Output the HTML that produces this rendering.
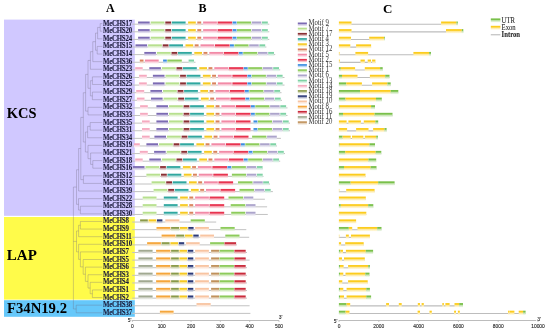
<!DOCTYPE html>
<html><head><meta charset="utf-8"><title>Figure</title>
<style>html,body{margin:0;padding:0;background:#fff;}body{width:550px;height:334px;overflow:hidden;font-family:"Liberation Serif",serif;}svg{display:block;will-change:transform;filter:blur(0.3px)}</style>
</head><body>
<svg width="550" height="334" viewBox="0 0 550 334">
<defs>
<linearGradient id="gm9" x1="0" y1="0" x2="0" y2="1"><stop offset="0" stop-color="#7c6bb3"/><stop offset="0.3" stop-color="#7c6bb3"/><stop offset="0.55" stop-color="#c4bcdd"/><stop offset="1" stop-color="#f5f3f9"/></linearGradient>
<linearGradient id="gm7" x1="0" y1="0" x2="0" y2="1"><stop offset="0" stop-color="#b7e08e"/><stop offset="0.3" stop-color="#b7e08e"/><stop offset="0.55" stop-color="#dff1cc"/><stop offset="1" stop-color="#f9fdf6"/></linearGradient>
<linearGradient id="gm17" x1="0" y1="0" x2="0" y2="1"><stop offset="0" stop-color="#8a2f33"/><stop offset="0.3" stop-color="#8a2f33"/><stop offset="0.55" stop-color="#caa1a3"/><stop offset="1" stop-color="#f6eeef"/></linearGradient>
<linearGradient id="gm4" x1="0" y1="0" x2="0" y2="1"><stop offset="0" stop-color="#2fa79f"/><stop offset="0.3" stop-color="#2fa79f"/><stop offset="0.55" stop-color="#a1d7d4"/><stop offset="1" stop-color="#eef8f7"/></linearGradient>
<linearGradient id="gm3" x1="0" y1="0" x2="0" y2="1"><stop offset="0" stop-color="#f6c921"/><stop offset="0.3" stop-color="#f6c921"/><stop offset="0.55" stop-color="#fbe79b"/><stop offset="1" stop-color="#fefbed"/></linearGradient>
<linearGradient id="gm12" x1="0" y1="0" x2="0" y2="1"><stop offset="0" stop-color="#d9835c"/><stop offset="0.3" stop-color="#d9835c"/><stop offset="0.55" stop-color="#eec7b6"/><stop offset="1" stop-color="#fcf5f2"/></linearGradient>
<linearGradient id="gm5" x1="0" y1="0" x2="0" y2="1"><stop offset="0" stop-color="#f28aa6"/><stop offset="0.3" stop-color="#f28aa6"/><stop offset="0.55" stop-color="#f9cad7"/><stop offset="1" stop-color="#fef6f8"/></linearGradient>
<linearGradient id="gm2" x1="0" y1="0" x2="0" y2="1"><stop offset="0" stop-color="#e8334f"/><stop offset="0.3" stop-color="#e8334f"/><stop offset="0.55" stop-color="#f5a3b0"/><stop offset="1" stop-color="#fdeff1"/></linearGradient>
<linearGradient id="gm15" x1="0" y1="0" x2="0" y2="1"><stop offset="0" stop-color="#3b8de0"/><stop offset="0.3" stop-color="#3b8de0"/><stop offset="0.55" stop-color="#a7ccf1"/><stop offset="1" stop-color="#eff6fd"/></linearGradient>
<linearGradient id="gm1" x1="0" y1="0" x2="0" y2="1"><stop offset="0" stop-color="#8dcb5b"/><stop offset="0.3" stop-color="#8dcb5b"/><stop offset="0.55" stop-color="#cce8b5"/><stop offset="1" stop-color="#f6fbf2"/></linearGradient>
<linearGradient id="gm6" x1="0" y1="0" x2="0" y2="1"><stop offset="0" stop-color="#aca4cb"/><stop offset="0.3" stop-color="#aca4cb"/><stop offset="0.55" stop-color="#dad6e8"/><stop offset="1" stop-color="#f8f8fb"/></linearGradient>
<linearGradient id="gm13" x1="0" y1="0" x2="0" y2="1"><stop offset="0" stop-color="#7fd2a5"/><stop offset="0.3" stop-color="#7fd2a5"/><stop offset="0.55" stop-color="#c5ebd6"/><stop offset="1" stop-color="#f5fbf8"/></linearGradient>
<linearGradient id="gm14" x1="0" y1="0" x2="0" y2="1"><stop offset="0" stop-color="#f5a9bf"/><stop offset="0.3" stop-color="#f5a9bf"/><stop offset="0.55" stop-color="#fad8e2"/><stop offset="1" stop-color="#fef8fa"/></linearGradient>
<linearGradient id="gm18" x1="0" y1="0" x2="0" y2="1"><stop offset="0" stop-color="#8a9a49"/><stop offset="0.3" stop-color="#8a9a49"/><stop offset="0.55" stop-color="#cad2ad"/><stop offset="1" stop-color="#f6f7f0"/></linearGradient>
<linearGradient id="gm19" x1="0" y1="0" x2="0" y2="1"><stop offset="0" stop-color="#2c3a78"/><stop offset="0.3" stop-color="#2c3a78"/><stop offset="0.55" stop-color="#a0a6c2"/><stop offset="1" stop-color="#eeeff4"/></linearGradient>
<linearGradient id="gm10" x1="0" y1="0" x2="0" y2="1"><stop offset="0" stop-color="#f8c4a1"/><stop offset="0.3" stop-color="#f8c4a1"/><stop offset="0.55" stop-color="#fce4d5"/><stop offset="1" stop-color="#fefaf7"/></linearGradient>
<linearGradient id="gm8" x1="0" y1="0" x2="0" y2="1"><stop offset="0" stop-color="#f5a63b"/><stop offset="0.3" stop-color="#f5a63b"/><stop offset="0.55" stop-color="#fad7a7"/><stop offset="1" stop-color="#fef8ef"/></linearGradient>
<linearGradient id="gm16" x1="0" y1="0" x2="0" y2="1"><stop offset="0" stop-color="#c92b3b"/><stop offset="0.3" stop-color="#c92b3b"/><stop offset="0.55" stop-color="#e7a0a7"/><stop offset="1" stop-color="#fbeeef"/></linearGradient>
<linearGradient id="gm11" x1="0" y1="0" x2="0" y2="1"><stop offset="0" stop-color="#a1a991"/><stop offset="0.3" stop-color="#a1a991"/><stop offset="0.55" stop-color="#d5d8ce"/><stop offset="1" stop-color="#f7f8f6"/></linearGradient>
<linearGradient id="gm20" x1="0" y1="0" x2="0" y2="1"><stop offset="0" stop-color="#c0915b"/><stop offset="0.3" stop-color="#c0915b"/><stop offset="0.55" stop-color="#e3ceb5"/><stop offset="1" stop-color="#faf6f2"/></linearGradient>
<linearGradient id="gexon" x1="0" y1="0" x2="0" y2="1"><stop offset="0" stop-color="#fccc1e"/><stop offset="0.3" stop-color="#fccc1e"/><stop offset="0.55" stop-color="#fee89a"/><stop offset="1" stop-color="#fffbed"/></linearGradient>
<linearGradient id="gutr" x1="0" y1="0" x2="0" y2="1"><stop offset="0" stop-color="#79c04a"/><stop offset="0.3" stop-color="#79c04a"/><stop offset="0.55" stop-color="#c3e3ae"/><stop offset="1" stop-color="#f4faf1"/></linearGradient>
</defs>
<rect x="4" y="19.6" width="130.8" height="196.2" fill="#d0c8ff"/>
<rect x="4" y="217" width="130.8" height="82.6" fill="#fffb4a"/>
<rect x="4" y="300.2" width="130.8" height="16.6" fill="#66c8fa"/>
<text x="110.4" y="12.4" font-family="Liberation Serif" font-weight="bold" font-size="12" text-anchor="middle">A</text>
<text x="202.4" y="12.4" font-family="Liberation Serif" font-weight="bold" font-size="12" text-anchor="middle">B</text>
<text x="387.8" y="13.3" font-family="Liberation Serif" font-weight="bold" font-size="13" text-anchor="middle">C</text>
<text transform="translate(6.8 117.8) scale(0.965 1)" font-family="Liberation Serif" font-weight="bold" font-size="15">KCS</text>
<text x="6.8" y="259.6" font-family="Liberation Serif" font-weight="bold" font-size="15">LAP</text>
<text x="7" y="313.3" font-family="Liberation Serif" font-weight="bold" font-size="14.7">F34N19.2</text>
<g stroke="#6f6a80" stroke-opacity="0.32" stroke-width="1" fill="none">
<line x1="100.2" y1="23.6" x2="102.3" y2="23.6"/>
<line x1="100.2" y1="31.21" x2="102.3" y2="31.21"/>
<line x1="100.2" y1="23.6" x2="100.2" y2="31.21"/>
<line x1="97.6" y1="27.41" x2="100.2" y2="27.41"/>
<line x1="97.6" y1="38.82" x2="102.3" y2="38.82"/>
<line x1="97.6" y1="27.41" x2="97.6" y2="38.82"/>
<line x1="95.5" y1="33.11" x2="97.6" y2="33.11"/>
<line x1="97.2" y1="46.43" x2="102.3" y2="46.43"/>
<line x1="97.2" y1="54.04" x2="102.3" y2="54.04"/>
<line x1="97.2" y1="46.43" x2="97.2" y2="54.04"/>
<line x1="95.5" y1="50.24" x2="97.2" y2="50.24"/>
<line x1="95.5" y1="33.11" x2="95.5" y2="50.24"/>
<line x1="92.8" y1="41.67" x2="95.5" y2="41.67"/>
<line x1="92.8" y1="61.65" x2="102.3" y2="61.65"/>
<line x1="92.8" y1="41.67" x2="92.8" y2="61.65"/>
<line x1="90.4" y1="51.66" x2="92.8" y2="51.66"/>
<line x1="90.4" y1="69.26" x2="102.3" y2="69.26"/>
<line x1="90.4" y1="51.66" x2="90.4" y2="69.26"/>
<line x1="88" y1="60.46" x2="90.4" y2="60.46"/>
<line x1="92.4" y1="76.87" x2="102.3" y2="76.87"/>
<line x1="92.4" y1="84.48" x2="102.3" y2="84.48"/>
<line x1="92.4" y1="76.87" x2="92.4" y2="84.48"/>
<line x1="90.4" y1="80.68" x2="92.4" y2="80.68"/>
<line x1="92.4" y1="92.09" x2="102.3" y2="92.09"/>
<line x1="92.4" y1="99.7" x2="102.3" y2="99.7"/>
<line x1="92.4" y1="92.09" x2="92.4" y2="99.7"/>
<line x1="90.4" y1="95.9" x2="92.4" y2="95.9"/>
<line x1="90.4" y1="80.68" x2="90.4" y2="95.9"/>
<line x1="88" y1="88.29" x2="90.4" y2="88.29"/>
<line x1="88" y1="60.46" x2="88" y2="88.29"/>
<line x1="85.6" y1="74.37" x2="88" y2="74.37"/>
<line x1="88" y1="107.31" x2="102.3" y2="107.31"/>
<line x1="88" y1="114.92" x2="102.3" y2="114.92"/>
<line x1="88" y1="107.31" x2="88" y2="114.92"/>
<line x1="85.6" y1="111.12" x2="88" y2="111.12"/>
<line x1="85.6" y1="74.37" x2="85.6" y2="111.12"/>
<line x1="83.3" y1="92.74" x2="85.6" y2="92.74"/>
<line x1="90.2" y1="122.53" x2="102.3" y2="122.53"/>
<line x1="90.2" y1="130.14" x2="102.3" y2="130.14"/>
<line x1="90.2" y1="122.53" x2="90.2" y2="130.14"/>
<line x1="87.6" y1="126.34" x2="90.2" y2="126.34"/>
<line x1="87.6" y1="137.75" x2="102.3" y2="137.75"/>
<line x1="87.6" y1="126.34" x2="87.6" y2="137.75"/>
<line x1="85.4" y1="132.04" x2="87.6" y2="132.04"/>
<line x1="88" y1="145.36" x2="102.3" y2="145.36"/>
<line x1="90.6" y1="152.97" x2="102.3" y2="152.97"/>
<line x1="92.8" y1="160.58" x2="102.3" y2="160.58"/>
<line x1="92.8" y1="168.19" x2="102.3" y2="168.19"/>
<line x1="92.8" y1="160.58" x2="92.8" y2="168.19"/>
<line x1="90.6" y1="164.38" x2="92.8" y2="164.38"/>
<line x1="90.6" y1="152.97" x2="90.6" y2="164.38"/>
<line x1="88" y1="158.68" x2="90.6" y2="158.68"/>
<line x1="88" y1="145.36" x2="88" y2="158.68"/>
<line x1="85.4" y1="152.02" x2="88" y2="152.02"/>
<line x1="85.4" y1="132.04" x2="85.4" y2="152.02"/>
<line x1="83.3" y1="142.03" x2="85.4" y2="142.03"/>
<line x1="83.3" y1="92.74" x2="83.3" y2="142.03"/>
<line x1="80.8" y1="117.39" x2="83.3" y2="117.39"/>
<line x1="83.4" y1="175.8" x2="102.3" y2="175.8"/>
<line x1="83.4" y1="183.41" x2="102.3" y2="183.41"/>
<line x1="83.4" y1="175.8" x2="83.4" y2="183.41"/>
<line x1="80.8" y1="179.61" x2="83.4" y2="179.61"/>
<line x1="80.8" y1="117.39" x2="80.8" y2="179.61"/>
<line x1="78.6" y1="148.5" x2="80.8" y2="148.5"/>
<line x1="78.6" y1="191.02" x2="102.3" y2="191.02"/>
<line x1="78.6" y1="148.5" x2="78.6" y2="191.02"/>
<line x1="76.5" y1="169.76" x2="78.6" y2="169.76"/>
<line x1="78.5" y1="198.63" x2="102.3" y2="198.63"/>
<line x1="80.4" y1="206.24" x2="102.3" y2="206.24"/>
<line x1="80.4" y1="213.85" x2="102.3" y2="213.85"/>
<line x1="80.4" y1="206.24" x2="80.4" y2="213.85"/>
<line x1="78.5" y1="210.05" x2="80.4" y2="210.05"/>
<line x1="78.5" y1="198.63" x2="78.5" y2="210.05"/>
<line x1="76.5" y1="204.34" x2="78.5" y2="204.34"/>
<line x1="76.5" y1="169.76" x2="76.5" y2="204.34"/>
<line x1="73.4" y1="187.05" x2="76.5" y2="187.05"/>
<line x1="80.4" y1="221.46" x2="102.3" y2="221.46"/>
<line x1="80.4" y1="229.07" x2="102.3" y2="229.07"/>
<line x1="80.4" y1="221.46" x2="80.4" y2="229.07"/>
<line x1="78.6" y1="225.26" x2="80.4" y2="225.26"/>
<line x1="78.6" y1="236.68" x2="102.3" y2="236.68"/>
<line x1="78.6" y1="225.26" x2="78.6" y2="236.68"/>
<line x1="76.5" y1="230.97" x2="78.6" y2="230.97"/>
<line x1="78.6" y1="244.29" x2="102.3" y2="244.29"/>
<line x1="80.4" y1="251.9" x2="102.3" y2="251.9"/>
<line x1="83.2" y1="259.51" x2="102.3" y2="259.51"/>
<line x1="85.4" y1="267.12" x2="102.3" y2="267.12"/>
<line x1="88" y1="274.73" x2="102.3" y2="274.73"/>
<line x1="90.2" y1="282.34" x2="102.3" y2="282.34"/>
<line x1="92.4" y1="289.95" x2="102.3" y2="289.95"/>
<line x1="92.4" y1="297.56" x2="102.3" y2="297.56"/>
<line x1="92.4" y1="289.95" x2="92.4" y2="297.56"/>
<line x1="90.2" y1="293.76" x2="92.4" y2="293.76"/>
<line x1="90.2" y1="282.34" x2="90.2" y2="293.76"/>
<line x1="88" y1="288.05" x2="90.2" y2="288.05"/>
<line x1="88" y1="274.73" x2="88" y2="288.05"/>
<line x1="85.4" y1="281.39" x2="88" y2="281.39"/>
<line x1="85.4" y1="267.12" x2="85.4" y2="281.39"/>
<line x1="83.2" y1="274.25" x2="85.4" y2="274.25"/>
<line x1="83.2" y1="259.51" x2="83.2" y2="274.25"/>
<line x1="80.4" y1="266.88" x2="83.2" y2="266.88"/>
<line x1="80.4" y1="251.9" x2="80.4" y2="266.88"/>
<line x1="78.6" y1="259.39" x2="80.4" y2="259.39"/>
<line x1="78.6" y1="244.29" x2="78.6" y2="259.39"/>
<line x1="76.5" y1="251.84" x2="78.6" y2="251.84"/>
<line x1="76.5" y1="230.97" x2="76.5" y2="251.84"/>
<line x1="73.4" y1="241.41" x2="76.5" y2="241.41"/>
<line x1="76.2" y1="305.17" x2="102.3" y2="305.17"/>
<line x1="76.2" y1="312.78" x2="102.3" y2="312.78"/>
<line x1="76.2" y1="305.17" x2="76.2" y2="312.78"/>
<line x1="73.4" y1="308.98" x2="76.2" y2="308.98"/>
<line x1="73.4" y1="187.05" x2="73.4" y2="308.98"/>
</g>
<g font-family="Liberation Serif" font-weight="bold" font-size="7.2" fill="#1a1a3a" stroke="#1a1a3a" stroke-width="0.1" letter-spacing="-0.22">
<text transform="translate(102.9 25.6) scale(0.955 1)">MeCHS17</text>
<text transform="translate(102.9 33.21) scale(0.955 1)">MeCHS20</text>
<text transform="translate(102.9 40.82) scale(0.955 1)">MeCHS24</text>
<text transform="translate(102.9 48.43) scale(0.955 1)">MeCHS15</text>
<text transform="translate(102.9 56.04) scale(0.955 1)">MeCHS14</text>
<text transform="translate(102.9 63.65) scale(0.955 1)">MeCHS36</text>
<text transform="translate(102.9 71.26) scale(0.955 1)">MeCHS23</text>
<text transform="translate(102.9 78.87) scale(0.955 1)">MeCHS26</text>
<text transform="translate(102.9 86.48) scale(0.955 1)">MeCHS25</text>
<text transform="translate(102.9 94.09) scale(0.955 1)">MeCHS29</text>
<text transform="translate(102.9 101.7) scale(0.955 1)">MeCHS27</text>
<text transform="translate(102.9 109.31) scale(0.955 1)">MeCHS32</text>
<text transform="translate(102.9 116.92) scale(0.955 1)">MeCHS33</text>
<text transform="translate(102.9 124.53) scale(0.955 1)">MeCHS35</text>
<text transform="translate(102.9 132.14) scale(0.955 1)">MeCHS31</text>
<text transform="translate(102.9 139.75) scale(0.955 1)">MeCHS34</text>
<text transform="translate(102.9 147.36) scale(0.955 1)">MeCHS19</text>
<text transform="translate(102.9 154.97) scale(0.955 1)">MeCHS21</text>
<text transform="translate(102.9 162.58) scale(0.955 1)">MeCHS18</text>
<text transform="translate(102.9 170.19) scale(0.955 1)">MeCHS16</text>
<text transform="translate(102.9 177.8) scale(0.955 1)">MeCHS12</text>
<text transform="translate(102.9 185.41) scale(0.955 1)">MeCHS13</text>
<text transform="translate(102.9 193.02) scale(0.955 1)">MeCHS39</text>
<text transform="translate(102.9 200.63) scale(0.955 1)">MeCHS22</text>
<text transform="translate(102.9 208.24) scale(0.955 1)">MeCHS28</text>
<text transform="translate(102.9 215.85) scale(0.955 1)">MeCHS30</text>
<text transform="translate(102.9 223.46) scale(0.955 1)">MeCHS8</text>
<text transform="translate(102.9 231.07) scale(0.955 1)">MeCHS9</text>
<text transform="translate(102.9 238.68) scale(0.955 1)">MeCHS11</text>
<text transform="translate(102.9 246.29) scale(0.955 1)">MeCHS10</text>
<text transform="translate(102.9 253.9) scale(0.955 1)">MeCHS7</text>
<text transform="translate(102.9 261.51) scale(0.955 1)">MeCHS5</text>
<text transform="translate(102.9 269.12) scale(0.955 1)">MeCHS6</text>
<text transform="translate(102.9 276.73) scale(0.955 1)">MeCHS3</text>
<text transform="translate(102.9 284.34) scale(0.955 1)">MeCHS4</text>
<text transform="translate(102.9 291.95) scale(0.955 1)">MeCHS1</text>
<text transform="translate(102.9 299.56) scale(0.955 1)">MeCHS2</text>
<text transform="translate(102.9 307.17) scale(0.955 1)">MeCHS38</text>
<text transform="translate(102.9 314.78) scale(0.955 1)">MeCHS37</text>
</g>
<g stroke="#c2c2c2" stroke-width="1">
<line x1="132.2" y1="24.2" x2="269.3" y2="24.2"/>
<line x1="132.2" y1="31.81" x2="269.3" y2="31.81"/>
<line x1="132.2" y1="39.42" x2="269.3" y2="39.42"/>
<line x1="132.2" y1="47.03" x2="266.4" y2="47.03"/>
<line x1="132.2" y1="54.64" x2="275.2" y2="54.64"/>
<line x1="132.2" y1="62.25" x2="195.5" y2="62.25"/>
<line x1="132.2" y1="69.86" x2="280.2" y2="69.86"/>
<line x1="132.2" y1="77.47" x2="284.5" y2="77.47"/>
<line x1="132.2" y1="85.08" x2="284.5" y2="85.08"/>
<line x1="132.2" y1="92.69" x2="281.5" y2="92.69"/>
<line x1="132.2" y1="100.3" x2="282" y2="100.3"/>
<line x1="132.2" y1="107.91" x2="287.5" y2="107.91"/>
<line x1="132.2" y1="115.52" x2="287.5" y2="115.52"/>
<line x1="132.2" y1="123.13" x2="290" y2="123.13"/>
<line x1="132.2" y1="130.74" x2="290" y2="130.74"/>
<line x1="132.2" y1="138.35" x2="280.9" y2="138.35"/>
<line x1="132.2" y1="145.96" x2="277" y2="145.96"/>
<line x1="132.2" y1="153.57" x2="285" y2="153.57"/>
<line x1="132.2" y1="161.18" x2="280.2" y2="161.18"/>
<line x1="132.2" y1="168.79" x2="262.7" y2="168.79"/>
<line x1="132.2" y1="176.4" x2="263.5" y2="176.4"/>
<line x1="132.2" y1="184.01" x2="270" y2="184.01"/>
<line x1="132.2" y1="191.62" x2="272.9" y2="191.62"/>
<line x1="132.2" y1="199.23" x2="264.9" y2="199.23"/>
<line x1="132.2" y1="206.84" x2="267.1" y2="206.84"/>
<line x1="132.2" y1="214.45" x2="267.8" y2="214.45"/>
<line x1="132.2" y1="222.06" x2="216.2" y2="222.06"/>
<line x1="132.2" y1="229.67" x2="246.3" y2="229.67"/>
<line x1="132.2" y1="237.28" x2="249.2" y2="237.28"/>
<line x1="132.2" y1="244.89" x2="237" y2="244.89"/>
<line x1="132.2" y1="252.5" x2="247" y2="252.5"/>
<line x1="132.2" y1="260.11" x2="249.6" y2="260.11"/>
<line x1="132.2" y1="267.72" x2="247" y2="267.72"/>
<line x1="132.2" y1="275.33" x2="247" y2="275.33"/>
<line x1="132.2" y1="282.94" x2="247" y2="282.94"/>
<line x1="132.2" y1="290.55" x2="247" y2="290.55"/>
<line x1="132.2" y1="298.16" x2="247" y2="298.16"/>
<line x1="132.2" y1="305.77" x2="249.6" y2="305.77"/>
<line x1="132.2" y1="313.38" x2="250.4" y2="313.38"/>
</g>
<rect x="138.1" y="21.5" width="11.6" height="4.2" fill="url(#gm9)"/>
<rect x="150.7" y="21.5" width="13.8" height="4.2" fill="url(#gm7)"/>
<rect x="165.3" y="21.5" width="5.8" height="4.2" fill="url(#gm17)"/>
<rect x="171.8" y="21.5" width="13.8" height="4.2" fill="url(#gm4)"/>
<rect x="188.1" y="21.5" width="7.7" height="4.2" fill="url(#gm3)"/>
<rect x="197.3" y="21.5" width="3.9" height="4.2" fill="url(#gm12)"/>
<rect x="203.1" y="21.5" width="13.8" height="4.2" fill="url(#gm5)"/>
<rect x="217.6" y="21.5" width="14.6" height="4.2" fill="url(#gm2)"/>
<rect x="232.6" y="21.5" width="3.9" height="4.2" fill="url(#gm15)"/>
<rect x="237" y="21.5" width="14.1" height="4.2" fill="url(#gm1)"/>
<rect x="251.8" y="21.5" width="9.5" height="4.2" fill="url(#gm6)"/>
<rect x="262" y="21.5" width="5.8" height="4.2" fill="url(#gm13)"/>
<rect x="138.1" y="29.11" width="11.6" height="4.2" fill="url(#gm9)"/>
<rect x="150.7" y="29.11" width="13.8" height="4.2" fill="url(#gm7)"/>
<rect x="165.3" y="29.11" width="5.8" height="4.2" fill="url(#gm17)"/>
<rect x="171.8" y="29.11" width="13.8" height="4.2" fill="url(#gm4)"/>
<rect x="188.1" y="29.11" width="7.7" height="4.2" fill="url(#gm3)"/>
<rect x="197.3" y="29.11" width="3.9" height="4.2" fill="url(#gm12)"/>
<rect x="203.1" y="29.11" width="13.8" height="4.2" fill="url(#gm5)"/>
<rect x="217.6" y="29.11" width="14.6" height="4.2" fill="url(#gm2)"/>
<rect x="232.6" y="29.11" width="3.9" height="4.2" fill="url(#gm15)"/>
<rect x="237" y="29.11" width="14.1" height="4.2" fill="url(#gm1)"/>
<rect x="251.8" y="29.11" width="9.5" height="4.2" fill="url(#gm6)"/>
<rect x="262" y="29.11" width="5.8" height="4.2" fill="url(#gm13)"/>
<rect x="138.1" y="36.72" width="11.6" height="4.2" fill="url(#gm9)"/>
<rect x="150.7" y="36.72" width="13.8" height="4.2" fill="url(#gm7)"/>
<rect x="165.3" y="36.72" width="5.8" height="4.2" fill="url(#gm17)"/>
<rect x="171.8" y="36.72" width="13.8" height="4.2" fill="url(#gm4)"/>
<rect x="188.1" y="36.72" width="7.7" height="4.2" fill="url(#gm3)"/>
<rect x="197.3" y="36.72" width="3.9" height="4.2" fill="url(#gm12)"/>
<rect x="203.1" y="36.72" width="13.8" height="4.2" fill="url(#gm5)"/>
<rect x="217.6" y="36.72" width="14.6" height="4.2" fill="url(#gm2)"/>
<rect x="232.6" y="36.72" width="3.9" height="4.2" fill="url(#gm15)"/>
<rect x="237" y="36.72" width="14.1" height="4.2" fill="url(#gm1)"/>
<rect x="251.8" y="36.72" width="9.5" height="4.2" fill="url(#gm6)"/>
<rect x="262" y="36.72" width="5.8" height="4.2" fill="url(#gm13)"/>
<rect x="135.5" y="44.33" width="11.6" height="4.2" fill="url(#gm9)"/>
<rect x="148.1" y="44.33" width="13.8" height="4.2" fill="url(#gm7)"/>
<rect x="162.7" y="44.33" width="5.8" height="4.2" fill="url(#gm17)"/>
<rect x="169.2" y="44.33" width="13.8" height="4.2" fill="url(#gm4)"/>
<rect x="185.5" y="44.33" width="7.7" height="4.2" fill="url(#gm3)"/>
<rect x="194.7" y="44.33" width="3.9" height="4.2" fill="url(#gm12)"/>
<rect x="200.5" y="44.33" width="13.8" height="4.2" fill="url(#gm5)"/>
<rect x="215" y="44.33" width="14.6" height="4.2" fill="url(#gm2)"/>
<rect x="230" y="44.33" width="3.9" height="4.2" fill="url(#gm15)"/>
<rect x="234.4" y="44.33" width="14.1" height="4.2" fill="url(#gm1)"/>
<rect x="249.2" y="44.33" width="9.5" height="4.2" fill="url(#gm6)"/>
<rect x="259.4" y="44.33" width="5.8" height="4.2" fill="url(#gm13)"/>
<rect x="144.3" y="51.94" width="11.6" height="4.2" fill="url(#gm9)"/>
<rect x="156.9" y="51.94" width="13.8" height="4.2" fill="url(#gm7)"/>
<rect x="171.5" y="51.94" width="5.8" height="4.2" fill="url(#gm17)"/>
<rect x="178" y="51.94" width="13.8" height="4.2" fill="url(#gm4)"/>
<rect x="194.3" y="51.94" width="7.7" height="4.2" fill="url(#gm3)"/>
<rect x="203.5" y="51.94" width="3.9" height="4.2" fill="url(#gm12)"/>
<rect x="209.3" y="51.94" width="13.8" height="4.2" fill="url(#gm5)"/>
<rect x="223.8" y="51.94" width="14.6" height="4.2" fill="url(#gm2)"/>
<rect x="238.8" y="51.94" width="3.9" height="4.2" fill="url(#gm15)"/>
<rect x="243.2" y="51.94" width="14.1" height="4.2" fill="url(#gm1)"/>
<rect x="258" y="51.94" width="9.5" height="4.2" fill="url(#gm6)"/>
<rect x="268.2" y="51.94" width="5.8" height="4.2" fill="url(#gm13)"/>
<rect x="139.8" y="59.55" width="3.7" height="4.2" fill="url(#gm12)"/>
<rect x="144.9" y="59.55" width="13.8" height="4.2" fill="url(#gm5)"/>
<rect x="163.1" y="59.55" width="3.7" height="4.2" fill="url(#gm15)"/>
<rect x="167.3" y="59.55" width="14.5" height="4.2" fill="url(#gm1)"/>
<rect x="188.6" y="59.55" width="5.4" height="4.2" fill="url(#gm13)"/>
<rect x="135.2" y="67.16" width="7.5" height="4.2" fill="url(#gm14)"/>
<rect x="149.3" y="67.16" width="11.6" height="4.2" fill="url(#gm9)"/>
<rect x="161.9" y="67.16" width="13.8" height="4.2" fill="url(#gm7)"/>
<rect x="176.5" y="67.16" width="5.8" height="4.2" fill="url(#gm17)"/>
<rect x="183" y="67.16" width="13.8" height="4.2" fill="url(#gm4)"/>
<rect x="199.3" y="67.16" width="7.7" height="4.2" fill="url(#gm3)"/>
<rect x="208.5" y="67.16" width="3.9" height="4.2" fill="url(#gm12)"/>
<rect x="214.3" y="67.16" width="13.8" height="4.2" fill="url(#gm5)"/>
<rect x="228.8" y="67.16" width="14.6" height="4.2" fill="url(#gm2)"/>
<rect x="243.8" y="67.16" width="3.9" height="4.2" fill="url(#gm15)"/>
<rect x="248.2" y="67.16" width="14.1" height="4.2" fill="url(#gm1)"/>
<rect x="263" y="67.16" width="9.5" height="4.2" fill="url(#gm6)"/>
<rect x="273.2" y="67.16" width="5.8" height="4.2" fill="url(#gm13)"/>
<rect x="139.1" y="74.77" width="7.7" height="4.2" fill="url(#gm14)"/>
<rect x="152.9" y="74.77" width="11.6" height="4.2" fill="url(#gm9)"/>
<rect x="165.5" y="74.77" width="13.8" height="4.2" fill="url(#gm7)"/>
<rect x="180.1" y="74.77" width="5.8" height="4.2" fill="url(#gm17)"/>
<rect x="186.6" y="74.77" width="13.8" height="4.2" fill="url(#gm4)"/>
<rect x="202.9" y="74.77" width="7.7" height="4.2" fill="url(#gm3)"/>
<rect x="212.1" y="74.77" width="3.9" height="4.2" fill="url(#gm12)"/>
<rect x="217.9" y="74.77" width="13.8" height="4.2" fill="url(#gm5)"/>
<rect x="232.4" y="74.77" width="14.6" height="4.2" fill="url(#gm2)"/>
<rect x="247.4" y="74.77" width="3.9" height="4.2" fill="url(#gm15)"/>
<rect x="251.8" y="74.77" width="14.1" height="4.2" fill="url(#gm1)"/>
<rect x="266.6" y="74.77" width="9.5" height="4.2" fill="url(#gm6)"/>
<rect x="276.8" y="74.77" width="5.8" height="4.2" fill="url(#gm13)"/>
<rect x="139.1" y="82.38" width="7.7" height="4.2" fill="url(#gm14)"/>
<rect x="152.9" y="82.38" width="11.6" height="4.2" fill="url(#gm9)"/>
<rect x="165.5" y="82.38" width="13.8" height="4.2" fill="url(#gm7)"/>
<rect x="180.1" y="82.38" width="5.8" height="4.2" fill="url(#gm17)"/>
<rect x="186.6" y="82.38" width="13.8" height="4.2" fill="url(#gm4)"/>
<rect x="202.9" y="82.38" width="7.7" height="4.2" fill="url(#gm3)"/>
<rect x="212.1" y="82.38" width="3.9" height="4.2" fill="url(#gm12)"/>
<rect x="217.9" y="82.38" width="13.8" height="4.2" fill="url(#gm5)"/>
<rect x="232.4" y="82.38" width="14.6" height="4.2" fill="url(#gm2)"/>
<rect x="247.4" y="82.38" width="3.9" height="4.2" fill="url(#gm15)"/>
<rect x="251.8" y="82.38" width="14.1" height="4.2" fill="url(#gm1)"/>
<rect x="266.6" y="82.38" width="9.5" height="4.2" fill="url(#gm6)"/>
<rect x="276.8" y="82.38" width="5.8" height="4.2" fill="url(#gm13)"/>
<rect x="136.2" y="89.99" width="8" height="4.2" fill="url(#gm14)"/>
<rect x="150.4" y="89.99" width="11.6" height="4.2" fill="url(#gm9)"/>
<rect x="163" y="89.99" width="13.8" height="4.2" fill="url(#gm7)"/>
<rect x="177.6" y="89.99" width="5.8" height="4.2" fill="url(#gm17)"/>
<rect x="184.1" y="89.99" width="13.8" height="4.2" fill="url(#gm4)"/>
<rect x="200.4" y="89.99" width="7.7" height="4.2" fill="url(#gm3)"/>
<rect x="209.6" y="89.99" width="3.9" height="4.2" fill="url(#gm12)"/>
<rect x="215.4" y="89.99" width="13.8" height="4.2" fill="url(#gm5)"/>
<rect x="229.9" y="89.99" width="14.6" height="4.2" fill="url(#gm2)"/>
<rect x="244.9" y="89.99" width="3.9" height="4.2" fill="url(#gm15)"/>
<rect x="249.3" y="89.99" width="14.1" height="4.2" fill="url(#gm1)"/>
<rect x="264.1" y="89.99" width="9.5" height="4.2" fill="url(#gm6)"/>
<rect x="274.3" y="89.99" width="5.8" height="4.2" fill="url(#gm13)"/>
<rect x="136.9" y="97.6" width="7.6" height="4.2" fill="url(#gm14)"/>
<rect x="151" y="97.6" width="11.6" height="4.2" fill="url(#gm9)"/>
<rect x="163.6" y="97.6" width="13.8" height="4.2" fill="url(#gm7)"/>
<rect x="178.2" y="97.6" width="5.8" height="4.2" fill="url(#gm17)"/>
<rect x="184.7" y="97.6" width="13.8" height="4.2" fill="url(#gm4)"/>
<rect x="201" y="97.6" width="7.7" height="4.2" fill="url(#gm3)"/>
<rect x="210.2" y="97.6" width="3.9" height="4.2" fill="url(#gm12)"/>
<rect x="216" y="97.6" width="13.8" height="4.2" fill="url(#gm5)"/>
<rect x="230.5" y="97.6" width="14.6" height="4.2" fill="url(#gm2)"/>
<rect x="245.5" y="97.6" width="3.9" height="4.2" fill="url(#gm15)"/>
<rect x="249.9" y="97.6" width="14.1" height="4.2" fill="url(#gm1)"/>
<rect x="264.7" y="97.6" width="9.5" height="4.2" fill="url(#gm6)"/>
<rect x="274.9" y="97.6" width="5.8" height="4.2" fill="url(#gm13)"/>
<rect x="140.1" y="105.21" width="7.7" height="4.2" fill="url(#gm14)"/>
<rect x="156.4" y="105.21" width="11.6" height="4.2" fill="url(#gm9)"/>
<rect x="169" y="105.21" width="13.8" height="4.2" fill="url(#gm7)"/>
<rect x="183.6" y="105.21" width="5.8" height="4.2" fill="url(#gm17)"/>
<rect x="190.1" y="105.21" width="13.8" height="4.2" fill="url(#gm4)"/>
<rect x="206.4" y="105.21" width="7.7" height="4.2" fill="url(#gm3)"/>
<rect x="215.6" y="105.21" width="3.9" height="4.2" fill="url(#gm12)"/>
<rect x="221.4" y="105.21" width="13.8" height="4.2" fill="url(#gm5)"/>
<rect x="235.9" y="105.21" width="14.6" height="4.2" fill="url(#gm2)"/>
<rect x="250.9" y="105.21" width="3.9" height="4.2" fill="url(#gm15)"/>
<rect x="255.3" y="105.21" width="14.1" height="4.2" fill="url(#gm1)"/>
<rect x="270.1" y="105.21" width="9.5" height="4.2" fill="url(#gm6)"/>
<rect x="280.3" y="105.21" width="5.8" height="4.2" fill="url(#gm13)"/>
<rect x="140.1" y="112.82" width="7.7" height="4.2" fill="url(#gm14)"/>
<rect x="156.4" y="112.82" width="11.6" height="4.2" fill="url(#gm9)"/>
<rect x="169" y="112.82" width="13.8" height="4.2" fill="url(#gm7)"/>
<rect x="183.6" y="112.82" width="5.8" height="4.2" fill="url(#gm17)"/>
<rect x="190.1" y="112.82" width="13.8" height="4.2" fill="url(#gm4)"/>
<rect x="206.4" y="112.82" width="7.7" height="4.2" fill="url(#gm3)"/>
<rect x="215.6" y="112.82" width="3.9" height="4.2" fill="url(#gm12)"/>
<rect x="221.4" y="112.82" width="13.8" height="4.2" fill="url(#gm5)"/>
<rect x="235.9" y="112.82" width="14.6" height="4.2" fill="url(#gm2)"/>
<rect x="250.9" y="112.82" width="3.9" height="4.2" fill="url(#gm15)"/>
<rect x="255.3" y="112.82" width="14.1" height="4.2" fill="url(#gm1)"/>
<rect x="270.1" y="112.82" width="9.5" height="4.2" fill="url(#gm6)"/>
<rect x="280.3" y="112.82" width="5.8" height="4.2" fill="url(#gm13)"/>
<rect x="142" y="120.43" width="7.7" height="4.2" fill="url(#gm14)"/>
<rect x="156.4" y="120.43" width="11.6" height="4.2" fill="url(#gm9)"/>
<rect x="169" y="120.43" width="13.8" height="4.2" fill="url(#gm7)"/>
<rect x="183.6" y="120.43" width="5.8" height="4.2" fill="url(#gm17)"/>
<rect x="190.1" y="120.43" width="13.8" height="4.2" fill="url(#gm4)"/>
<rect x="206.4" y="120.43" width="7.7" height="4.2" fill="url(#gm3)"/>
<rect x="215.6" y="120.43" width="3.9" height="4.2" fill="url(#gm12)"/>
<rect x="221.4" y="120.43" width="13.8" height="4.2" fill="url(#gm5)"/>
<rect x="235.9" y="120.43" width="14.6" height="4.2" fill="url(#gm2)"/>
<rect x="253.5" y="120.43" width="3.9" height="4.2" fill="url(#gm15)"/>
<rect x="257.9" y="120.43" width="14.1" height="4.2" fill="url(#gm1)"/>
<rect x="272.7" y="120.43" width="9.5" height="4.2" fill="url(#gm6)"/>
<rect x="282.9" y="120.43" width="5.8" height="4.2" fill="url(#gm13)"/>
<rect x="142" y="128.04" width="7.7" height="4.2" fill="url(#gm14)"/>
<rect x="156.4" y="128.04" width="11.6" height="4.2" fill="url(#gm9)"/>
<rect x="169" y="128.04" width="13.8" height="4.2" fill="url(#gm7)"/>
<rect x="183.6" y="128.04" width="5.8" height="4.2" fill="url(#gm17)"/>
<rect x="190.1" y="128.04" width="13.8" height="4.2" fill="url(#gm4)"/>
<rect x="206.4" y="128.04" width="7.7" height="4.2" fill="url(#gm3)"/>
<rect x="215.6" y="128.04" width="3.9" height="4.2" fill="url(#gm12)"/>
<rect x="221.4" y="128.04" width="13.8" height="4.2" fill="url(#gm5)"/>
<rect x="235.9" y="128.04" width="14.6" height="4.2" fill="url(#gm2)"/>
<rect x="253.5" y="128.04" width="3.9" height="4.2" fill="url(#gm15)"/>
<rect x="257.9" y="128.04" width="14.1" height="4.2" fill="url(#gm1)"/>
<rect x="272.7" y="128.04" width="9.5" height="4.2" fill="url(#gm6)"/>
<rect x="282.9" y="128.04" width="5.8" height="4.2" fill="url(#gm13)"/>
<rect x="142" y="135.65" width="7.7" height="4.2" fill="url(#gm14)"/>
<rect x="154.4" y="135.65" width="11.6" height="4.2" fill="url(#gm9)"/>
<rect x="167" y="135.65" width="13.8" height="4.2" fill="url(#gm7)"/>
<rect x="181.6" y="135.65" width="5.8" height="4.2" fill="url(#gm17)"/>
<rect x="188.1" y="135.65" width="13.8" height="4.2" fill="url(#gm4)"/>
<rect x="204.4" y="135.65" width="7.7" height="4.2" fill="url(#gm3)"/>
<rect x="213.6" y="135.65" width="3.9" height="4.2" fill="url(#gm12)"/>
<rect x="219.4" y="135.65" width="13.8" height="4.2" fill="url(#gm5)"/>
<rect x="233.9" y="135.65" width="14.6" height="4.2" fill="url(#gm2)"/>
<rect x="252.1" y="135.65" width="14.3" height="4.2" fill="url(#gm1)"/>
<rect x="267.1" y="135.65" width="9.7" height="4.2" fill="url(#gm6)"/>
<rect x="134" y="143.26" width="5.8" height="4.2" fill="url(#gm14)"/>
<rect x="146.4" y="143.26" width="11.6" height="4.2" fill="url(#gm9)"/>
<rect x="159" y="143.26" width="13.8" height="4.2" fill="url(#gm7)"/>
<rect x="173.6" y="143.26" width="5.8" height="4.2" fill="url(#gm17)"/>
<rect x="180.1" y="143.26" width="13.8" height="4.2" fill="url(#gm4)"/>
<rect x="196.4" y="143.26" width="7.7" height="4.2" fill="url(#gm3)"/>
<rect x="205.6" y="143.26" width="3.9" height="4.2" fill="url(#gm12)"/>
<rect x="211.4" y="143.26" width="13.8" height="4.2" fill="url(#gm5)"/>
<rect x="225.9" y="143.26" width="14.6" height="4.2" fill="url(#gm2)"/>
<rect x="240.9" y="143.26" width="3.9" height="4.2" fill="url(#gm15)"/>
<rect x="245.3" y="143.26" width="14.1" height="4.2" fill="url(#gm1)"/>
<rect x="260.1" y="143.26" width="9.5" height="4.2" fill="url(#gm6)"/>
<rect x="270.3" y="143.26" width="5.8" height="4.2" fill="url(#gm13)"/>
<rect x="139.8" y="150.87" width="8" height="4.2" fill="url(#gm14)"/>
<rect x="154.1" y="150.87" width="11.6" height="4.2" fill="url(#gm9)"/>
<rect x="166.7" y="150.87" width="13.8" height="4.2" fill="url(#gm7)"/>
<rect x="181.3" y="150.87" width="5.8" height="4.2" fill="url(#gm17)"/>
<rect x="187.8" y="150.87" width="13.8" height="4.2" fill="url(#gm4)"/>
<rect x="204.1" y="150.87" width="7.7" height="4.2" fill="url(#gm3)"/>
<rect x="213.3" y="150.87" width="3.9" height="4.2" fill="url(#gm12)"/>
<rect x="219.1" y="150.87" width="13.8" height="4.2" fill="url(#gm5)"/>
<rect x="233.6" y="150.87" width="14.6" height="4.2" fill="url(#gm2)"/>
<rect x="248.6" y="150.87" width="3.9" height="4.2" fill="url(#gm15)"/>
<rect x="253" y="150.87" width="14.1" height="4.2" fill="url(#gm1)"/>
<rect x="267.8" y="150.87" width="9.5" height="4.2" fill="url(#gm6)"/>
<rect x="278" y="150.87" width="5.8" height="4.2" fill="url(#gm13)"/>
<rect x="135.2" y="158.48" width="7.5" height="4.2" fill="url(#gm14)"/>
<rect x="149.3" y="158.48" width="11.6" height="4.2" fill="url(#gm9)"/>
<rect x="161.9" y="158.48" width="13.8" height="4.2" fill="url(#gm7)"/>
<rect x="176.5" y="158.48" width="5.8" height="4.2" fill="url(#gm17)"/>
<rect x="183" y="158.48" width="13.8" height="4.2" fill="url(#gm4)"/>
<rect x="199.3" y="158.48" width="7.7" height="4.2" fill="url(#gm3)"/>
<rect x="208.5" y="158.48" width="3.9" height="4.2" fill="url(#gm12)"/>
<rect x="214.3" y="158.48" width="13.8" height="4.2" fill="url(#gm5)"/>
<rect x="228.8" y="158.48" width="14.6" height="4.2" fill="url(#gm2)"/>
<rect x="243.8" y="158.48" width="3.9" height="4.2" fill="url(#gm15)"/>
<rect x="248.2" y="158.48" width="14.1" height="4.2" fill="url(#gm1)"/>
<rect x="263" y="158.48" width="9.5" height="4.2" fill="url(#gm6)"/>
<rect x="273.2" y="158.48" width="5.8" height="4.2" fill="url(#gm13)"/>
<rect x="132.9" y="166.09" width="11.6" height="4.2" fill="url(#gm9)"/>
<rect x="145.5" y="166.09" width="13.8" height="4.2" fill="url(#gm7)"/>
<rect x="160.1" y="166.09" width="5.8" height="4.2" fill="url(#gm17)"/>
<rect x="166.6" y="166.09" width="13.8" height="4.2" fill="url(#gm4)"/>
<rect x="182.9" y="166.09" width="7.7" height="4.2" fill="url(#gm3)"/>
<rect x="192.1" y="166.09" width="3.9" height="4.2" fill="url(#gm12)"/>
<rect x="197.9" y="166.09" width="13.8" height="4.2" fill="url(#gm5)"/>
<rect x="212.4" y="166.09" width="14.6" height="4.2" fill="url(#gm2)"/>
<rect x="227.4" y="166.09" width="3.9" height="4.2" fill="url(#gm15)"/>
<rect x="231.8" y="166.09" width="14.1" height="4.2" fill="url(#gm1)"/>
<rect x="246.6" y="166.09" width="9.5" height="4.2" fill="url(#gm6)"/>
<rect x="256.8" y="166.09" width="5.8" height="4.2" fill="url(#gm13)"/>
<rect x="146.4" y="173.7" width="13.8" height="4.2" fill="url(#gm7)"/>
<rect x="161" y="173.7" width="5.8" height="4.2" fill="url(#gm17)"/>
<rect x="167.5" y="173.7" width="13.8" height="4.2" fill="url(#gm4)"/>
<rect x="183.8" y="173.7" width="7.7" height="4.2" fill="url(#gm3)"/>
<rect x="193" y="173.7" width="3.9" height="4.2" fill="url(#gm12)"/>
<rect x="198.8" y="173.7" width="13.8" height="4.2" fill="url(#gm5)"/>
<rect x="213.3" y="173.7" width="14.6" height="4.2" fill="url(#gm2)"/>
<rect x="231.9" y="173.7" width="14.1" height="4.2" fill="url(#gm1)"/>
<rect x="246.7" y="173.7" width="9.5" height="4.2" fill="url(#gm6)"/>
<rect x="256.9" y="173.7" width="5.8" height="4.2" fill="url(#gm13)"/>
<rect x="151.6" y="181.31" width="13.8" height="4.2" fill="url(#gm7)"/>
<rect x="166.2" y="181.31" width="5.8" height="4.2" fill="url(#gm17)"/>
<rect x="172.7" y="181.31" width="13.8" height="4.2" fill="url(#gm4)"/>
<rect x="189" y="181.31" width="7.7" height="4.2" fill="url(#gm3)"/>
<rect x="198.2" y="181.31" width="3.9" height="4.2" fill="url(#gm12)"/>
<rect x="204" y="181.31" width="13.8" height="4.2" fill="url(#gm5)"/>
<rect x="218.5" y="181.31" width="14.6" height="4.2" fill="url(#gm2)"/>
<rect x="238" y="181.31" width="14.5" height="4.2" fill="url(#gm1)"/>
<rect x="253.3" y="181.31" width="9.4" height="4.2" fill="url(#gm6)"/>
<rect x="263.2" y="181.31" width="5.8" height="4.2" fill="url(#gm13)"/>
<rect x="153.6" y="188.92" width="13.8" height="4.2" fill="url(#gm7)"/>
<rect x="168.2" y="188.92" width="5.8" height="4.2" fill="url(#gm17)"/>
<rect x="174.7" y="188.92" width="13.8" height="4.2" fill="url(#gm4)"/>
<rect x="191" y="188.92" width="7.7" height="4.2" fill="url(#gm3)"/>
<rect x="200.2" y="188.92" width="3.9" height="4.2" fill="url(#gm12)"/>
<rect x="206" y="188.92" width="13.8" height="4.2" fill="url(#gm5)"/>
<rect x="220.5" y="188.92" width="14.6" height="4.2" fill="url(#gm2)"/>
<rect x="239.5" y="188.92" width="14.5" height="4.2" fill="url(#gm1)"/>
<rect x="254.7" y="188.92" width="9.5" height="4.2" fill="url(#gm6)"/>
<rect x="264.9" y="188.92" width="5.8" height="4.2" fill="url(#gm13)"/>
<rect x="142.7" y="196.53" width="13.8" height="4.2" fill="url(#gm7)"/>
<rect x="163.8" y="196.53" width="13.8" height="4.2" fill="url(#gm4)"/>
<rect x="180.1" y="196.53" width="7.7" height="4.2" fill="url(#gm3)"/>
<rect x="189.3" y="196.53" width="3.9" height="4.2" fill="url(#gm12)"/>
<rect x="195.1" y="196.53" width="13.8" height="4.2" fill="url(#gm5)"/>
<rect x="209.6" y="196.53" width="14.6" height="4.2" fill="url(#gm2)"/>
<rect x="228.5" y="196.53" width="14.6" height="4.2" fill="url(#gm1)"/>
<rect x="243.8" y="196.53" width="9.5" height="4.2" fill="url(#gm6)"/>
<rect x="142.7" y="204.14" width="13.8" height="4.2" fill="url(#gm7)"/>
<rect x="163.8" y="204.14" width="13.8" height="4.2" fill="url(#gm4)"/>
<rect x="180.1" y="204.14" width="7.7" height="4.2" fill="url(#gm3)"/>
<rect x="189.3" y="204.14" width="3.9" height="4.2" fill="url(#gm12)"/>
<rect x="195.1" y="204.14" width="13.8" height="4.2" fill="url(#gm5)"/>
<rect x="209.6" y="204.14" width="14.6" height="4.2" fill="url(#gm2)"/>
<rect x="230.7" y="204.14" width="14.6" height="4.2" fill="url(#gm1)"/>
<rect x="246" y="204.14" width="9.5" height="4.2" fill="url(#gm6)"/>
<rect x="142.7" y="211.75" width="13.8" height="4.2" fill="url(#gm7)"/>
<rect x="163.8" y="211.75" width="13.8" height="4.2" fill="url(#gm4)"/>
<rect x="180.1" y="211.75" width="7.7" height="4.2" fill="url(#gm3)"/>
<rect x="189.3" y="211.75" width="3.9" height="4.2" fill="url(#gm12)"/>
<rect x="195.1" y="211.75" width="13.8" height="4.2" fill="url(#gm5)"/>
<rect x="209.6" y="211.75" width="14.6" height="4.2" fill="url(#gm2)"/>
<rect x="231.2" y="211.75" width="14.1" height="4.2" fill="url(#gm1)"/>
<rect x="246" y="211.75" width="9.5" height="4.2" fill="url(#gm6)"/>
<rect x="140.1" y="219.36" width="7.7" height="4.2" fill="url(#gm18)"/>
<rect x="148.5" y="219.36" width="7.8" height="4.2" fill="url(#gm3)"/>
<rect x="157" y="219.36" width="5.4" height="4.2" fill="url(#gm19)"/>
<rect x="165.3" y="219.36" width="14.1" height="4.2" fill="url(#gm10)"/>
<rect x="190.7" y="219.36" width="14.1" height="4.2" fill="url(#gm1)"/>
<rect x="156.5" y="226.97" width="13.9" height="4.2" fill="url(#gm8)"/>
<rect x="171.1" y="226.97" width="8" height="4.2" fill="url(#gm18)"/>
<rect x="179.8" y="226.97" width="7.7" height="4.2" fill="url(#gm3)"/>
<rect x="188.3" y="226.97" width="5.3" height="4.2" fill="url(#gm19)"/>
<rect x="195.1" y="226.97" width="13.8" height="4.2" fill="url(#gm10)"/>
<rect x="220.5" y="226.97" width="14.2" height="4.2" fill="url(#gm1)"/>
<rect x="161.6" y="234.58" width="13.9" height="4.2" fill="url(#gm8)"/>
<rect x="176.2" y="234.58" width="8" height="4.2" fill="url(#gm18)"/>
<rect x="184.9" y="234.58" width="7.7" height="4.2" fill="url(#gm3)"/>
<rect x="193.3" y="234.58" width="5.4" height="4.2" fill="url(#gm19)"/>
<rect x="200.2" y="234.58" width="13.8" height="4.2" fill="url(#gm10)"/>
<rect x="225.3" y="234.58" width="14.2" height="4.2" fill="url(#gm1)"/>
<rect x="147.1" y="242.19" width="13.8" height="4.2" fill="url(#gm8)"/>
<rect x="161.6" y="242.19" width="8" height="4.2" fill="url(#gm18)"/>
<rect x="170.4" y="242.19" width="7.7" height="4.2" fill="url(#gm3)"/>
<rect x="178.8" y="242.19" width="5.4" height="4.2" fill="url(#gm19)"/>
<rect x="186.1" y="242.19" width="13.6" height="4.2" fill="url(#gm10)"/>
<rect x="210.1" y="242.19" width="14.1" height="4.2" fill="url(#gm1)"/>
<rect x="224.5" y="242.19" width="11.6" height="4.2" fill="url(#gm16)"/>
<rect x="138.4" y="249.8" width="14.2" height="4.2" fill="url(#gm11)"/>
<rect x="156.1" y="249.8" width="14.3" height="4.2" fill="url(#gm8)"/>
<rect x="171.1" y="249.8" width="7.7" height="4.2" fill="url(#gm18)"/>
<rect x="179.4" y="249.8" width="7.7" height="4.2" fill="url(#gm3)"/>
<rect x="187.8" y="249.8" width="5.5" height="4.2" fill="url(#gm19)"/>
<rect x="195.1" y="249.8" width="13.8" height="4.2" fill="url(#gm10)"/>
<rect x="211.1" y="249.8" width="8" height="4.2" fill="url(#gm20)"/>
<rect x="219.5" y="249.8" width="14.4" height="4.2" fill="url(#gm1)"/>
<rect x="234.4" y="249.8" width="11.3" height="4.2" fill="url(#gm16)"/>
<rect x="138.4" y="257.41" width="14.2" height="4.2" fill="url(#gm11)"/>
<rect x="156.1" y="257.41" width="14.3" height="4.2" fill="url(#gm8)"/>
<rect x="171.1" y="257.41" width="7.7" height="4.2" fill="url(#gm18)"/>
<rect x="179.4" y="257.41" width="7.7" height="4.2" fill="url(#gm3)"/>
<rect x="187.8" y="257.41" width="5.5" height="4.2" fill="url(#gm19)"/>
<rect x="195.1" y="257.41" width="13.8" height="4.2" fill="url(#gm10)"/>
<rect x="211.1" y="257.41" width="8" height="4.2" fill="url(#gm20)"/>
<rect x="219.5" y="257.41" width="14.4" height="4.2" fill="url(#gm1)"/>
<rect x="234.4" y="257.41" width="11.3" height="4.2" fill="url(#gm16)"/>
<rect x="138.4" y="265.02" width="14.2" height="4.2" fill="url(#gm11)"/>
<rect x="156.1" y="265.02" width="14.3" height="4.2" fill="url(#gm8)"/>
<rect x="171.1" y="265.02" width="7.7" height="4.2" fill="url(#gm18)"/>
<rect x="179.4" y="265.02" width="7.7" height="4.2" fill="url(#gm3)"/>
<rect x="187.8" y="265.02" width="5.5" height="4.2" fill="url(#gm19)"/>
<rect x="195.1" y="265.02" width="13.8" height="4.2" fill="url(#gm10)"/>
<rect x="211.1" y="265.02" width="8" height="4.2" fill="url(#gm20)"/>
<rect x="219.5" y="265.02" width="14.4" height="4.2" fill="url(#gm1)"/>
<rect x="234.4" y="265.02" width="11.3" height="4.2" fill="url(#gm16)"/>
<rect x="138.4" y="272.63" width="14.2" height="4.2" fill="url(#gm11)"/>
<rect x="156.1" y="272.63" width="14.3" height="4.2" fill="url(#gm8)"/>
<rect x="171.1" y="272.63" width="7.7" height="4.2" fill="url(#gm18)"/>
<rect x="179.4" y="272.63" width="7.7" height="4.2" fill="url(#gm3)"/>
<rect x="187.8" y="272.63" width="5.5" height="4.2" fill="url(#gm19)"/>
<rect x="195.1" y="272.63" width="13.8" height="4.2" fill="url(#gm10)"/>
<rect x="211.1" y="272.63" width="8" height="4.2" fill="url(#gm20)"/>
<rect x="219.5" y="272.63" width="14.4" height="4.2" fill="url(#gm1)"/>
<rect x="234.4" y="272.63" width="11.3" height="4.2" fill="url(#gm16)"/>
<rect x="138.4" y="280.24" width="14.2" height="4.2" fill="url(#gm11)"/>
<rect x="156.1" y="280.24" width="14.3" height="4.2" fill="url(#gm8)"/>
<rect x="171.1" y="280.24" width="7.7" height="4.2" fill="url(#gm18)"/>
<rect x="179.4" y="280.24" width="7.7" height="4.2" fill="url(#gm3)"/>
<rect x="187.8" y="280.24" width="5.5" height="4.2" fill="url(#gm19)"/>
<rect x="195.1" y="280.24" width="13.8" height="4.2" fill="url(#gm10)"/>
<rect x="211.1" y="280.24" width="8" height="4.2" fill="url(#gm20)"/>
<rect x="219.5" y="280.24" width="14.4" height="4.2" fill="url(#gm1)"/>
<rect x="234.4" y="280.24" width="11.3" height="4.2" fill="url(#gm16)"/>
<rect x="138.4" y="287.85" width="14.2" height="4.2" fill="url(#gm11)"/>
<rect x="156.1" y="287.85" width="14.3" height="4.2" fill="url(#gm8)"/>
<rect x="171.1" y="287.85" width="7.7" height="4.2" fill="url(#gm18)"/>
<rect x="179.4" y="287.85" width="7.7" height="4.2" fill="url(#gm3)"/>
<rect x="187.8" y="287.85" width="5.5" height="4.2" fill="url(#gm19)"/>
<rect x="195.1" y="287.85" width="13.8" height="4.2" fill="url(#gm10)"/>
<rect x="211.1" y="287.85" width="8" height="4.2" fill="url(#gm20)"/>
<rect x="219.5" y="287.85" width="14.4" height="4.2" fill="url(#gm1)"/>
<rect x="234.4" y="287.85" width="11.3" height="4.2" fill="url(#gm16)"/>
<rect x="138.4" y="295.46" width="14.2" height="4.2" fill="url(#gm11)"/>
<rect x="156.1" y="295.46" width="14.3" height="4.2" fill="url(#gm8)"/>
<rect x="171.1" y="295.46" width="7.7" height="4.2" fill="url(#gm18)"/>
<rect x="179.4" y="295.46" width="7.7" height="4.2" fill="url(#gm3)"/>
<rect x="187.8" y="295.46" width="5.5" height="4.2" fill="url(#gm19)"/>
<rect x="195.1" y="295.46" width="13.8" height="4.2" fill="url(#gm10)"/>
<rect x="211.1" y="295.46" width="8" height="4.2" fill="url(#gm20)"/>
<rect x="219.5" y="295.46" width="14.4" height="4.2" fill="url(#gm1)"/>
<rect x="234.4" y="295.46" width="11.3" height="4.2" fill="url(#gm16)"/>
<rect x="196.5" y="303.07" width="14.2" height="4.2" fill="url(#gm10)"/>
<rect x="159.9" y="310.68" width="13.7" height="4.2" fill="url(#gm8)"/>
<g stroke="#b4b4b4" stroke-width="0.9"><line x1="131.7" y1="320.5" x2="279" y2="320.5"/>
<line x1="132.4" y1="320.5" x2="132.4" y2="321.8"/>
<line x1="161.72" y1="320.5" x2="161.72" y2="321.8"/>
<line x1="191.04" y1="320.5" x2="191.04" y2="321.8"/>
<line x1="220.36" y1="320.5" x2="220.36" y2="321.8"/>
<line x1="249.68" y1="320.5" x2="249.68" y2="321.8"/>
<line x1="279" y1="320.5" x2="279" y2="321.8"/>
</g>
<g font-family="Liberation Sans" font-size="4.9" fill="#2a2a2a" stroke="#2a2a2a" stroke-width="0.12" text-anchor="middle">
<text transform="translate(132.4 327.7) scale(1 1.2)">0</text>
<text transform="translate(161.72 327.7) scale(1 1.2)">100</text>
<text transform="translate(191.04 327.7) scale(1 1.2)">200</text>
<text transform="translate(220.36 327.7) scale(1 1.2)">300</text>
<text transform="translate(249.68 327.7) scale(1 1.2)">400</text>
<text transform="translate(279 327.7) scale(1 1.2)">500</text>
<text x="129.6" y="322">5'</text><text x="280.6" y="319.2">3'</text>
</g>
<rect x="297.8" y="22.5" width="9.1" height="3.6" fill="url(#gm9)"/>
<rect x="297.8" y="27.7" width="9.1" height="3.6" fill="url(#gm7)"/>
<rect x="297.8" y="32.9" width="9.1" height="3.6" fill="url(#gm17)"/>
<rect x="297.8" y="38.1" width="9.1" height="3.6" fill="url(#gm4)"/>
<rect x="297.8" y="43.3" width="9.1" height="3.6" fill="url(#gm3)"/>
<rect x="297.8" y="48.5" width="9.1" height="3.6" fill="url(#gm12)"/>
<rect x="297.8" y="53.7" width="9.1" height="3.6" fill="url(#gm5)"/>
<rect x="297.8" y="58.9" width="9.1" height="3.6" fill="url(#gm2)"/>
<rect x="297.8" y="64.1" width="9.1" height="3.6" fill="url(#gm15)"/>
<rect x="297.8" y="69.3" width="9.1" height="3.6" fill="url(#gm1)"/>
<rect x="297.8" y="74.5" width="9.1" height="3.6" fill="url(#gm6)"/>
<rect x="297.8" y="79.7" width="9.1" height="3.6" fill="url(#gm13)"/>
<rect x="297.8" y="84.9" width="9.1" height="3.6" fill="url(#gm14)"/>
<rect x="297.8" y="90.1" width="9.1" height="3.6" fill="url(#gm18)"/>
<rect x="297.8" y="95.3" width="9.1" height="3.6" fill="url(#gm19)"/>
<rect x="297.8" y="100.5" width="9.1" height="3.6" fill="url(#gm10)"/>
<rect x="297.8" y="105.7" width="9.1" height="3.6" fill="url(#gm8)"/>
<rect x="297.8" y="110.9" width="9.1" height="3.6" fill="url(#gm16)"/>
<rect x="297.8" y="116.1" width="9.1" height="3.6" fill="url(#gm11)"/>
<rect x="297.8" y="121.3" width="9.1" height="3.6" fill="url(#gm20)"/>
<g font-family="Liberation Serif" font-size="6.8" fill="#333">
<text transform="translate(308.4 25.4) scale(1 1.12)">Motif 9</text>
<text transform="translate(308.4 30.6) scale(1 1.12)">Motif 7</text>
<text transform="translate(308.4 35.8) scale(1 1.12)">Motif 17</text>
<text transform="translate(308.4 41) scale(1 1.12)">Motif 4</text>
<text transform="translate(308.4 46.2) scale(1 1.12)">Motif 3</text>
<text transform="translate(308.4 51.4) scale(1 1.12)">Motif 12</text>
<text transform="translate(308.4 56.6) scale(1 1.12)">Motif 5</text>
<text transform="translate(308.4 61.8) scale(1 1.12)">Motif 2</text>
<text transform="translate(308.4 67) scale(1 1.12)">Motif 15</text>
<text transform="translate(308.4 72.2) scale(1 1.12)">Motif 1</text>
<text transform="translate(308.4 77.4) scale(1 1.12)">Motif 6</text>
<text transform="translate(308.4 82.6) scale(1 1.12)">Motif 13</text>
<text transform="translate(308.4 87.8) scale(1 1.12)">Motif 14</text>
<text transform="translate(308.4 93) scale(1 1.12)">Motif 18</text>
<text transform="translate(308.4 98.2) scale(1 1.12)">Motif 19</text>
<text transform="translate(308.4 103.4) scale(1 1.12)">Motif 10</text>
<text transform="translate(308.4 108.6) scale(1 1.12)">Motif 8</text>
<text transform="translate(308.4 113.8) scale(1 1.12)">Motif 16</text>
<text transform="translate(308.4 119) scale(1 1.12)">Motif 11</text>
<text transform="translate(308.4 124.2) scale(1 1.12)">Motif 20</text>
</g>
<g stroke="#bdbdbd" stroke-width="1.1">
<line x1="338.9" y1="24.3" x2="457.8" y2="24.3"/>
<line x1="338.9" y1="31.91" x2="463.3" y2="31.91"/>
<line x1="338.9" y1="39.52" x2="384.8" y2="39.52"/>
<line x1="338.9" y1="47.13" x2="371.1" y2="47.13"/>
<line x1="338.9" y1="54.74" x2="431" y2="54.74"/>
<line x1="338.9" y1="62.35" x2="375.4" y2="62.35"/>
<line x1="338.9" y1="69.96" x2="382.7" y2="69.96"/>
<line x1="338.9" y1="77.57" x2="389.5" y2="77.57"/>
<line x1="338.9" y1="85.18" x2="390.7" y2="85.18"/>
<line x1="338.9" y1="92.79" x2="398.3" y2="92.79"/>
<line x1="338.9" y1="100.4" x2="381.8" y2="100.4"/>
<line x1="338.9" y1="108.01" x2="375" y2="108.01"/>
<line x1="338.9" y1="115.62" x2="392.5" y2="115.62"/>
<line x1="338.9" y1="123.23" x2="378.2" y2="123.23"/>
<line x1="338.9" y1="130.84" x2="386.6" y2="130.84"/>
<line x1="338.9" y1="138.45" x2="377.9" y2="138.45"/>
<line x1="338.9" y1="146.06" x2="375" y2="146.06"/>
<line x1="338.9" y1="153.67" x2="381.3" y2="153.67"/>
<line x1="338.9" y1="161.28" x2="376.2" y2="161.28"/>
<line x1="338.9" y1="168.89" x2="376.5" y2="168.89"/>
<line x1="338.9" y1="176.5" x2="365.5" y2="176.5"/>
<line x1="338.9" y1="184.11" x2="394.6" y2="184.11"/>
<line x1="338.9" y1="191.72" x2="374.6" y2="191.72"/>
<line x1="338.9" y1="199.33" x2="365.8" y2="199.33"/>
<line x1="338.9" y1="206.94" x2="373.3" y2="206.94"/>
<line x1="338.9" y1="214.55" x2="366.3" y2="214.55"/>
<line x1="338.9" y1="222.16" x2="356.1" y2="222.16"/>
<line x1="338.9" y1="229.77" x2="381.5" y2="229.77"/>
<line x1="338.9" y1="237.38" x2="369.9" y2="237.38"/>
<line x1="338.9" y1="244.99" x2="363.7" y2="244.99"/>
<line x1="338.9" y1="252.6" x2="373.1" y2="252.6"/>
<line x1="338.9" y1="260.21" x2="364.8" y2="260.21"/>
<line x1="338.9" y1="267.82" x2="369.9" y2="267.82"/>
<line x1="338.9" y1="275.43" x2="369.5" y2="275.43"/>
<line x1="338.9" y1="283.04" x2="367.7" y2="283.04"/>
<line x1="338.9" y1="290.65" x2="369.9" y2="290.65"/>
<line x1="338.9" y1="298.26" x2="371.1" y2="298.26"/>
<line x1="338.9" y1="305.87" x2="463" y2="305.87"/>
<line x1="338.9" y1="313.48" x2="525.6" y2="313.48"/>
</g>
<rect x="338.9" y="21.5" width="12.6" height="4.2" fill="url(#gexon)"/>
<rect x="441.1" y="21.5" width="15.4" height="4.2" fill="url(#gexon)"/>
<rect x="456.5" y="21.5" width="1.3" height="4.2" fill="url(#gutr)"/>
<rect x="338.9" y="29.11" width="12.6" height="4.2" fill="url(#gexon)"/>
<rect x="446" y="29.11" width="15.8" height="4.2" fill="url(#gexon)"/>
<rect x="461.8" y="29.11" width="1.5" height="4.2" fill="url(#gutr)"/>
<rect x="338.9" y="36.72" width="12.1" height="4.2" fill="url(#gexon)"/>
<rect x="369.2" y="36.72" width="14.8" height="4.2" fill="url(#gexon)"/>
<rect x="384" y="36.72" width="0.8" height="4.2" fill="url(#gutr)"/>
<rect x="338.9" y="44.33" width="11.4" height="4.2" fill="url(#gexon)"/>
<rect x="356.1" y="44.33" width="15" height="4.2" fill="url(#gexon)"/>
<rect x="338.9" y="51.94" width="0.6" height="4.2" fill="url(#gexon)"/>
<rect x="355.4" y="51.94" width="12.7" height="4.2" fill="url(#gexon)"/>
<rect x="413.4" y="51.94" width="15.7" height="4.2" fill="url(#gexon)"/>
<rect x="429.1" y="51.94" width="1.9" height="4.2" fill="url(#gutr)"/>
<rect x="338.9" y="59.55" width="0.8" height="4.2" fill="url(#gexon)"/>
<rect x="360.5" y="59.55" width="4.3" height="4.2" fill="url(#gexon)"/>
<rect x="367.7" y="59.55" width="3.3" height="4.2" fill="url(#gexon)"/>
<rect x="372.1" y="59.55" width="3.3" height="4.2" fill="url(#gexon)"/>
<rect x="338.9" y="67.16" width="1.9" height="4.2" fill="url(#gutr)"/>
<rect x="340.8" y="67.16" width="14.3" height="4.2" fill="url(#gexon)"/>
<rect x="364.8" y="67.16" width="15.3" height="4.2" fill="url(#gexon)"/>
<rect x="380.1" y="67.16" width="2.6" height="4.2" fill="url(#gutr)"/>
<rect x="338.9" y="74.77" width="3.1" height="4.2" fill="url(#gutr)"/>
<rect x="342" y="74.77" width="15.5" height="4.2" fill="url(#gexon)"/>
<rect x="369.9" y="74.77" width="15.3" height="4.2" fill="url(#gexon)"/>
<rect x="385.2" y="74.77" width="4.3" height="4.2" fill="url(#gutr)"/>
<rect x="338.9" y="82.38" width="7.4" height="4.2" fill="url(#gutr)"/>
<rect x="346.3" y="82.38" width="15.6" height="4.2" fill="url(#gexon)"/>
<rect x="372.1" y="82.38" width="15.3" height="4.2" fill="url(#gexon)"/>
<rect x="387.4" y="82.38" width="3.3" height="4.2" fill="url(#gutr)"/>
<rect x="338.9" y="89.99" width="21.1" height="4.2" fill="url(#gutr)"/>
<rect x="360" y="89.99" width="30.7" height="4.2" fill="url(#gexon)"/>
<rect x="390.7" y="89.99" width="7.6" height="4.2" fill="url(#gutr)"/>
<rect x="338.9" y="97.6" width="6.6" height="4.2" fill="url(#gutr)"/>
<rect x="345.5" y="97.6" width="30.5" height="4.2" fill="url(#gexon)"/>
<rect x="376" y="97.6" width="5.8" height="4.2" fill="url(#gutr)"/>
<rect x="338.9" y="105.21" width="0.8" height="4.2" fill="url(#gutr)"/>
<rect x="339.7" y="105.21" width="31.4" height="4.2" fill="url(#gexon)"/>
<rect x="371.1" y="105.21" width="3.9" height="4.2" fill="url(#gutr)"/>
<rect x="338.9" y="112.82" width="4.1" height="4.2" fill="url(#gutr)"/>
<rect x="343" y="112.82" width="31.6" height="4.2" fill="url(#gexon)"/>
<rect x="374.6" y="112.82" width="17.9" height="4.2" fill="url(#gutr)"/>
<rect x="338.9" y="120.43" width="7.7" height="4.2" fill="url(#gexon)"/>
<rect x="348.4" y="120.43" width="12.5" height="4.2" fill="url(#gexon)"/>
<rect x="363.8" y="120.43" width="11.6" height="4.2" fill="url(#gexon)"/>
<rect x="375.4" y="120.43" width="2.8" height="4.2" fill="url(#gutr)"/>
<rect x="338.9" y="128.04" width="8.2" height="4.2" fill="url(#gexon)"/>
<rect x="356.1" y="128.04" width="12.4" height="4.2" fill="url(#gexon)"/>
<rect x="373.1" y="128.04" width="11.4" height="4.2" fill="url(#gexon)"/>
<rect x="384.5" y="128.04" width="2.1" height="4.2" fill="url(#gutr)"/>
<rect x="338.9" y="135.65" width="3.7" height="4.2" fill="url(#gutr)"/>
<rect x="342.6" y="135.65" width="8.1" height="4.2" fill="url(#gexon)"/>
<rect x="352" y="135.65" width="11.4" height="4.2" fill="url(#gexon)"/>
<rect x="364.8" y="135.65" width="11.4" height="4.2" fill="url(#gexon)"/>
<rect x="376.2" y="135.65" width="1.7" height="4.2" fill="url(#gutr)"/>
<rect x="338.9" y="143.26" width="0.8" height="4.2" fill="url(#gutr)"/>
<rect x="339.7" y="143.26" width="29.8" height="4.2" fill="url(#gexon)"/>
<rect x="369.5" y="143.26" width="5.5" height="4.2" fill="url(#gutr)"/>
<rect x="338.9" y="150.87" width="6.3" height="4.2" fill="url(#gutr)"/>
<rect x="345.2" y="150.87" width="30.5" height="4.2" fill="url(#gexon)"/>
<rect x="375.7" y="150.87" width="5.6" height="4.2" fill="url(#gutr)"/>
<rect x="338.9" y="158.48" width="29.6" height="4.2" fill="url(#gexon)"/>
<rect x="368.5" y="158.48" width="7.7" height="4.2" fill="url(#gutr)"/>
<rect x="338.9" y="166.09" width="5.1" height="4.2" fill="url(#gutr)"/>
<rect x="344" y="166.09" width="26.6" height="4.2" fill="url(#gexon)"/>
<rect x="370.6" y="166.09" width="5.9" height="4.2" fill="url(#gutr)"/>
<rect x="338.9" y="173.7" width="26.6" height="4.2" fill="url(#gexon)"/>
<rect x="338.9" y="181.31" width="11.7" height="4.2" fill="url(#gutr)"/>
<rect x="350.6" y="181.31" width="27.6" height="4.2" fill="url(#gexon)"/>
<rect x="378.2" y="181.31" width="16.4" height="4.2" fill="url(#gutr)"/>
<rect x="338.9" y="188.92" width="0.4" height="4.2" fill="url(#gexon)"/>
<rect x="346.2" y="188.92" width="28.4" height="4.2" fill="url(#gexon)"/>
<rect x="338.9" y="196.53" width="26.9" height="4.2" fill="url(#gexon)"/>
<rect x="338.9" y="204.14" width="1.9" height="4.2" fill="url(#gutr)"/>
<rect x="340.8" y="204.14" width="27.4" height="4.2" fill="url(#gexon)"/>
<rect x="368.2" y="204.14" width="5.1" height="4.2" fill="url(#gutr)"/>
<rect x="338.9" y="211.75" width="27.4" height="4.2" fill="url(#gexon)"/>
<rect x="338.9" y="219.36" width="17.2" height="4.2" fill="url(#gexon)"/>
<rect x="338.9" y="226.97" width="9.9" height="4.2" fill="url(#gutr)"/>
<rect x="348.8" y="226.97" width="3.4" height="4.2" fill="url(#gexon)"/>
<rect x="357.5" y="226.97" width="19.7" height="4.2" fill="url(#gexon)"/>
<rect x="377.2" y="226.97" width="4.3" height="4.2" fill="url(#gutr)"/>
<rect x="338.9" y="234.58" width="0.4" height="4.2" fill="url(#gexon)"/>
<rect x="345.9" y="234.58" width="2.9" height="4.2" fill="url(#gexon)"/>
<rect x="351" y="234.58" width="18.9" height="4.2" fill="url(#gexon)"/>
<rect x="338.9" y="242.19" width="2.2" height="4.2" fill="url(#gexon)"/>
<rect x="345.2" y="242.19" width="18.5" height="4.2" fill="url(#gexon)"/>
<rect x="338.9" y="249.8" width="1.5" height="4.2" fill="url(#gutr)"/>
<rect x="340.4" y="249.8" width="2.6" height="4.2" fill="url(#gexon)"/>
<rect x="345.9" y="249.8" width="19.9" height="4.2" fill="url(#gexon)"/>
<rect x="365.8" y="249.8" width="7.3" height="4.2" fill="url(#gutr)"/>
<rect x="338.9" y="257.41" width="3.1" height="4.2" fill="url(#gexon)"/>
<rect x="344" y="257.41" width="20.8" height="4.2" fill="url(#gexon)"/>
<rect x="338.9" y="265.02" width="1.1" height="4.2" fill="url(#gutr)"/>
<rect x="340" y="265.02" width="3.6" height="4.2" fill="url(#gexon)"/>
<rect x="348.1" y="265.02" width="20.1" height="4.2" fill="url(#gexon)"/>
<rect x="368.2" y="265.02" width="1.7" height="4.2" fill="url(#gutr)"/>
<rect x="338.9" y="272.63" width="1.1" height="4.2" fill="url(#gutr)"/>
<rect x="340" y="272.63" width="3.3" height="4.2" fill="url(#gexon)"/>
<rect x="345.5" y="272.63" width="19.8" height="4.2" fill="url(#gexon)"/>
<rect x="365.3" y="272.63" width="4.2" height="4.2" fill="url(#gutr)"/>
<rect x="338.9" y="280.24" width="3.4" height="4.2" fill="url(#gexon)"/>
<rect x="348.1" y="280.24" width="19.6" height="4.2" fill="url(#gexon)"/>
<rect x="338.9" y="287.85" width="1.1" height="4.2" fill="url(#gutr)"/>
<rect x="340" y="287.85" width="3.3" height="4.2" fill="url(#gexon)"/>
<rect x="346.6" y="287.85" width="19.7" height="4.2" fill="url(#gexon)"/>
<rect x="366.3" y="287.85" width="3.6" height="4.2" fill="url(#gutr)"/>
<rect x="338.9" y="295.46" width="1.1" height="4.2" fill="url(#gutr)"/>
<rect x="340" y="295.46" width="4" height="4.2" fill="url(#gexon)"/>
<rect x="346.6" y="295.46" width="19.7" height="4.2" fill="url(#gexon)"/>
<rect x="366.3" y="295.46" width="4.8" height="4.2" fill="url(#gutr)"/>
<rect x="338.9" y="303.07" width="7.7" height="4.2" fill="url(#gutr)"/>
<rect x="346.6" y="303.07" width="3.6" height="4.2" fill="url(#gexon)"/>
<rect x="386.1" y="303.07" width="2.9" height="4.2" fill="url(#gexon)"/>
<rect x="398.8" y="303.07" width="2.9" height="4.2" fill="url(#gexon)"/>
<rect x="417.8" y="303.07" width="2.2" height="4.2" fill="url(#gexon)"/>
<rect x="421.6" y="303.07" width="2.2" height="4.2" fill="url(#gexon)"/>
<rect x="442.3" y="303.07" width="1.6" height="4.2" fill="url(#gexon)"/>
<rect x="445.4" y="303.07" width="4.2" height="4.2" fill="url(#gexon)"/>
<rect x="454.5" y="303.07" width="4.7" height="4.2" fill="url(#gexon)"/>
<rect x="459.2" y="303.07" width="3.8" height="4.2" fill="url(#gutr)"/>
<rect x="338.9" y="310.68" width="6.7" height="4.2" fill="url(#gutr)"/>
<rect x="345.6" y="310.68" width="3.9" height="4.2" fill="url(#gexon)"/>
<rect x="417.6" y="310.68" width="2.4" height="4.2" fill="url(#gexon)"/>
<rect x="429.5" y="310.68" width="2.3" height="4.2" fill="url(#gexon)"/>
<rect x="454.1" y="310.68" width="1.9" height="4.2" fill="url(#gexon)"/>
<rect x="457.9" y="310.68" width="1.9" height="4.2" fill="url(#gexon)"/>
<rect x="508.1" y="310.68" width="0.9" height="4.2" fill="url(#gexon)"/>
<rect x="509.3" y="310.68" width="5.1" height="4.2" fill="url(#gexon)"/>
<rect x="518.7" y="310.68" width="4.4" height="4.2" fill="url(#gexon)"/>
<rect x="523.1" y="310.68" width="2.5" height="4.2" fill="url(#gutr)"/>
<g stroke="#b4b4b4" stroke-width="0.9"><line x1="338.9" y1="320.5" x2="536.2" y2="320.5"/>
<line x1="339" y1="320.5" x2="339" y2="321.8"/>
<line x1="378.8" y1="320.5" x2="378.8" y2="321.8"/>
<line x1="418.6" y1="320.5" x2="418.6" y2="321.8"/>
<line x1="458.4" y1="320.5" x2="458.4" y2="321.8"/>
<line x1="498.2" y1="320.5" x2="498.2" y2="321.8"/>
<line x1="538" y1="320.5" x2="538" y2="321.8"/>
</g>
<g font-family="Liberation Sans" font-size="4.9" fill="#2a2a2a" stroke="#2a2a2a" stroke-width="0.12" text-anchor="middle">
<text transform="translate(339 327.5) scale(1 1.2)">0</text>
<text transform="translate(378.8 327.5) scale(1 1.2)">2000</text>
<text transform="translate(418.6 327.5) scale(1 1.2)">4000</text>
<text transform="translate(458.4 327.5) scale(1 1.2)">6000</text>
<text transform="translate(498.2 327.5) scale(1 1.2)">8000</text>
<text transform="translate(538 327.5) scale(1 1.2)">10000</text>
<text x="335.6" y="323.2">5'</text><text x="539" y="320.6">3'</text>
</g>
<rect x="490.8" y="18.4" width="9.6" height="4" fill="url(#gutr)"/>
<rect x="490.8" y="25.8" width="9.6" height="4" fill="url(#gexon)"/>
<line x1="490.8" y1="34.8" x2="500.4" y2="34.8" stroke="#aaa" stroke-width="0.9"/>
<g font-family="Liberation Serif" font-size="7.2" fill="#222" stroke="#222" stroke-width="0.06">
<text transform="translate(501.6 22.7) scale(0.93 1)">UTR</text><text transform="translate(501.6 30.1) scale(0.93 1)">Exon</text><text transform="translate(501.6 37.3) scale(0.93 1)" font-weight="bold">Intron</text>
</g>
</svg>
</body></html>
